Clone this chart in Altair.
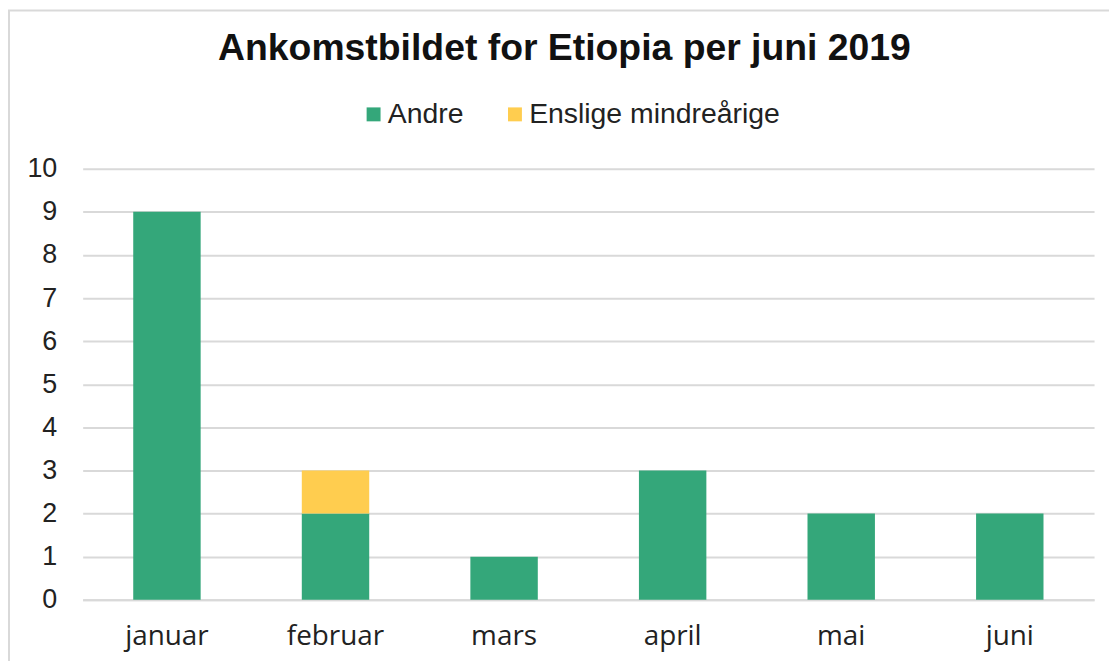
import altair as alt
import pandas as pd

months = ["januar", "februar", "mars", "april", "mai", "juni"]
andre = [9, 2, 1, 3, 2, 2]
enslige = [0, 1, 0, 0, 0, 0]
series = ["Andre", "Enslige mindreårige"]
colors = ["#34A77A", "#FFCD4F"]

rows = []
for m, a, e in zip(months, andre, enslige):
    rows.append({"month": m, "serie": series[0], "value": a, "ord": 0})
    rows.append({"month": m, "serie": series[1], "value": e, "ord": 1})
df = pd.DataFrame(rows)

W, H = 1016, 433

bars = alt.Chart(df).mark_bar().encode(
    x=alt.X("month:N", sort=months, title=None,
            scale=alt.Scale(paddingInner=0.6, paddingOuter=0.3),
            axis=alt.Axis(labelAngle=0, labelFont="Open Sans", labelFontSize=28,
                          labelColor="#222222", labelPadding=23, ticks=False,
                          domainColor="#d9d9d9", domainWidth=2)),
    y=alt.Y("value:Q", stack="zero", title=None,
            scale=alt.Scale(domain=[0, 10]),
            axis=alt.Axis(values=list(range(11)), labelFont="Liberation Sans",
                          labelFontSize=27, labelColor="#222222", labelPadding=26,
                          ticks=False, domain=False, gridColor="#d9d9d9",
                          gridWidth=2)),
    color=alt.Color("serie:N", sort=series,
                    scale=alt.Scale(domain=series, range=colors),
                    legend=alt.Legend(title=None, orient="none", direction="horizontal",
                                      legendX=278, legendY=-69, symbolType="square",
                                      symbolSize=196, symbolStrokeWidth=0,
                                      labelFont="Liberation Sans", labelFontSize=28.5,
                                      labelColor="#222222", labelOffset=0,
                                      labelLimit=500,
                                      columnPadding=37, padding=0)),
    order=alt.Order("ord:Q"),
)

border = alt.Chart(alt.Data(values=[{"a": 1}])).mark_rect(
    fill=None, stroke="#d9d9d9", strokeWidth=2
).encode(
    x=alt.value(-74), x2=alt.value(W + 60),
    y=alt.value(-159), y2=alt.value(H + 120),
)

chart = alt.layer(border, bars).properties(
    width=W, height=H,
    title=alt.Title("Ankomstbildet for Etiopia per juni 2019",
                    font="Liberation Sans", fontSize=37.5, fontWeight="bold",
                    color="#111111", anchor="middle", dx=-24, dy=62),
    autosize=alt.AutoSizeParams(type="none"),
    padding={"left": 75, "top": 160, "right": 15, "bottom": 60},
).configure_view(stroke=None)

chart.save("out.html", embed_options={"renderer": "svg", "actions": False})
